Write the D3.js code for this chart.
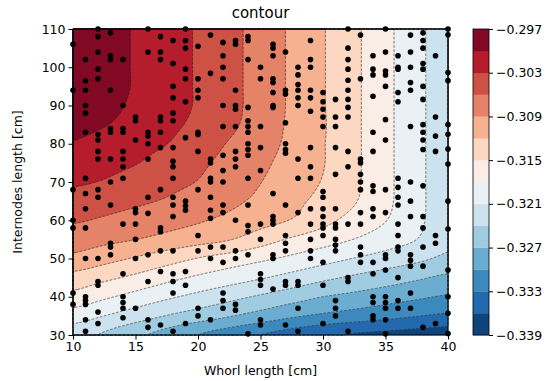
<!DOCTYPE html>
<html>
<head>
<meta charset="utf-8">
<script src="https://cdn.jsdelivr.net/npm/d3@7"></script>
<style>
  body { margin: 0; background: #fff; }
  text { font-family: "DejaVu Sans", sans-serif; }
</style>
</head>
<body>
<svg id="chart" width="555" height="381"></svg>
<script>
// field: whorl length (x) by internode length (y)
const gridX = [10, 12.5, 15, 17.5, 20, 22.5, 25, 27.5, 30, 32.5, 35, 37.5, 40];
const gridY = [30, 35, 40, 45, 50, 55, 60, 65, 70, 75, 80, 85, 90, 95, 100, 105, 110];
const gridZ = [
  [-0.3228, -0.32438, -0.32625, -0.32813, -0.3300, -0.3315, -0.3330, -0.33425, -0.3355, -0.33625, -0.33667, -0.33708, -0.3375],
  [-0.3195, -0.3210, -0.32256, -0.32411, -0.32545, -0.32679, -0.32817, -0.32956, -0.33053, -0.33131, -0.33209, -0.33287, -0.3335],
  [-0.3160, -0.31752, -0.3190, -0.32047, -0.32182, -0.3231, -0.32439, -0.32569, -0.3270, -0.32783, -0.32867, -0.3295, -0.3303],
  [-0.3131, -0.31432, -0.31565, -0.31712, -0.31845, -0.31959, -0.32073, -0.3220, -0.32332, -0.32449, -0.32552, -0.32655, -0.3276],
  [-0.30975, -0.3110, -0.31229, -0.31371, -0.31512, -0.31627, -0.31742, -0.31862, -0.31986, -0.32109, -0.32221, -0.32333, -0.3246],
  [-0.3075, -0.30824, -0.30897, -0.30992, -0.31088, -0.31185, -0.31362, -0.31538, -0.31671, -0.31806, -0.31953, -0.3210, -0.3233],
  [-0.3057, -0.30637, -0.30714, -0.30792, -0.30869, -0.30971, -0.3109, -0.31216, -0.31413, -0.31604, -0.3179, -0.32031, -0.3227],
  [-0.3041, -0.3048, -0.3055, -0.30629, -0.30733, -0.30838, -0.30963, -0.31119, -0.3129, -0.31478, -0.31728, -0.32016, -0.3227],
  [-0.30264, -0.30319, -0.30415, -0.30512, -0.30611, -0.30753, -0.30894, -0.31053, -0.31218, -0.31445, -0.31719, -0.32016, -0.3227],
  [-0.3014, -0.30214, -0.30288, -0.30411, -0.30542, -0.30686, -0.30839, -0.31007, -0.31186, -0.31438, -0.31719, -0.32016, -0.3227],
  [-0.3002, -0.30112, -0.30204, -0.30297, -0.30457, -0.3062, -0.30787, -0.30969, -0.31183, -0.31438, -0.31719, -0.32016, -0.3227],
  [-0.2990, -0.29986, -0.30103, -0.30226, -0.30368, -0.30539, -0.30737, -0.30955, -0.31173, -0.31438, -0.31719, -0.32016, -0.3227],
  [-0.2978, -0.2991, -0.3005, -0.30185, -0.30329, -0.30512, -0.30718, -0.30947, -0.31181, -0.31438, -0.31719, -0.32016, -0.3227],
  [-0.2975, -0.29886, -0.30024, -0.30174, -0.30329, -0.30512, -0.30718, -0.30947, -0.31181, -0.31438, -0.31719, -0.32016, -0.3227],
  [-0.2975, -0.29886, -0.30024, -0.30174, -0.30329, -0.30512, -0.30718, -0.30947, -0.31181, -0.31438, -0.31719, -0.32016, -0.3227],
  [-0.2975, -0.29886, -0.30024, -0.30174, -0.30329, -0.30512, -0.30718, -0.30947, -0.31181, -0.31438, -0.31719, -0.32016, -0.3227],
  [-0.2975, -0.29886, -0.30024, -0.30174, -0.30329, -0.30512, -0.30718, -0.30947, -0.31181, -0.31438, -0.31719, -0.32016, -0.3227]
];

const levels = [-0.339, -0.336, -0.333, -0.330, -0.327, -0.324, -0.321, -0.318,
  -0.315, -0.312, -0.309, -0.306, -0.303, -0.300, -0.297];
const colorbarTicks = [-0.339, -0.333, -0.327, -0.321, -0.315, -0.309, -0.303, -0.297];
const xTicks = [10, 15, 20, 25, 30, 35, 40];
const yTicks = [30, 40, 50, 60, 70, 80, 90, 100, 110];

// measured samples, grouped by whorl length
const samples = [
  [10, [106, 94, 68, 60, 58, 41, 38]],
  [11, [102, 96.4, 94, 90, 88, 83, 71, 67, 63, 58, 50, 40, 39, 38, 34, 31]],
  [12, [110, 108, 104, 99.5, 97, 82.4, 81, 78, 76, 68, 66, 50, 44, 43, 36, 33]],
  [13, [109, 103, 102, 94, 84, 83, 76, 70, 64, 54, 53, 51]],
  [14, [102, 90, 84, 83, 78, 76, 74, 71, 59, 46, 40, 38.5, 37, 34.5]],
  [15, [87, 86, 81, 63, 62, 59, 55, 50, 37]],
  [16, [110, 104, 83, 82, 80, 76, 66, 61.8, 51, 44, 34, 32]],
  [17, [108, 104, 102, 87, 86, 83, 79, 68, 58, 57, 52, 46.6, 32.6]],
  [18, [107, 101, 95, 92, 88, 86, 79, 75.4, 74, 71, 66, 64, 61, 52, 46, 44, 41, 31]],
  [19, [110, 107, 105, 99.5, 97, 91, 81.6, 65, 63.8, 62.6, 46.6, 43, 33]],
  [20, [105.5, 97, 94, 92, 83, 82.4, 78, 68, 56, 52, 37, 35]],
  [21, [108.4, 98.4, 76, 75, 71, 70, 66, 62.6, 60.5, 53, 50, 34]],
  [22, [106.5, 103, 100, 97, 90, 84.5, 77, 73, 70, 64, 62, 53, 49, 41, 39, 37]],
  [23, [107, 106, 94, 90, 89, 84.5, 78, 76, 74, 60, 52, 50, 38, 36.5]],
  [24, [108, 107, 102, 89.5, 86, 84.5, 83, 80, 78.5, 77, 71, 64, 58.6, 57, 51, 30.3]],
  [25, [100, 97, 84.5, 79, 73, 59, 55, 46, 44.5, 43, 34, 32.6]],
  [26, [106, 105, 103, 97, 96, 93.4, 90, 89.5, 67, 61, 60, 59, 51, 50, 42]],
  [27, [104, 94, 93, 85.5, 80, 78.5, 77.5, 64, 56, 54, 52, 44, 43, 32.6]],
  [28, [100, 98, 95.5, 94, 92, 90, 76, 71, 62, 44, 43, 37, 31]],
  [29, [107, 102, 100, 94, 92, 88.5, 79, 74, 71, 63, 59, 55, 52, 50]],
  [30, [93.4, 91, 89, 87, 84.5, 67.5, 66, 63, 61, 59, 58, 56, 49, 43, 33]],
  [31, [91.6, 87, 84.5, 79, 72, 63, 59, 58, 55, 53.5, 52, 39, 37, 35]],
  [32, [110, 105, 102, 99.5, 96.6, 94, 91.6, 89.5, 87, 78, 74, 59, 45, 44, 31]],
  [33, [108.4, 97, 76, 75, 72, 70, 68, 62, 59, 53, 51, 49]],
  [34, [103, 99.5, 98, 92.4, 83, 78, 69, 67.5, 63, 61, 49, 46, 40, 38.5, 35, 34]],
  [35, [110, 104, 99, 98, 95, 86.3, 81, 68, 62, 51, 50, 47, 40, 38.5, 37, 34, 30.3]],
  [36, [103, 100, 99.5, 93.4, 91, 71, 68.6, 66, 64, 59, 56, 53, 52, 45, 39, 37]],
  [37, [108.4, 104, 100, 96, 94, 84.5, 70, 65, 61, 51, 49.5, 48, 41, 37]],
  [38, [109, 107, 105, 101, 99.5, 95, 91.6, 85, 83, 81, 78.5, 69, 61, 58, 53, 48, 32]],
  [39, [103, 87, 82, 78, 56, 54, 33]],
  [40, [110, 108.5, 98.6, 96.5, 85, 82.5, 78.6, 74.7, 65, 57.7, 47, 40, 35.7, 30.4]]
];

const svg = d3.select('#chart');
const plot = { left: 73, right: 448, top: 29, bottom: 335 };
const bar = { left: 473, right: 489 };

const x = d3.scaleLinear().domain([10, 40]).range([plot.left, plot.right]);
const y = d3.scaleLinear().domain([30, 110]).range([plot.bottom, plot.top]);
const cbScale = d3.scaleLinear().domain([levels[0], levels[levels.length - 1]]).range([plot.bottom, plot.top]);

// matplotlib RdBu_r: linear rgb between the brewer stops
const rdbu = ['#053061', '#2166ac', '#4393c3', '#92c5de', '#d1e5f0', '#f7f7f7',
  '#fddbc7', '#f4a582', '#d6604d', '#b2182b', '#67001f'];
const cmap = d3.scaleLinear().domain(d3.range(rdbu.length).map(i => i / (rdbu.length - 1))).range(rdbu).interpolate(d3.interpolateRgb);
const nBands = levels.length - 1;
const bandColor = k => cmap((k + 0.5) / nBands);

// smooth (catmull-rom) resampling of the read grid, for drawing only
function cubic(p0, p1, p2, p3, t) {
  return p1 + 0.5 * t * (p2 - p0 + t * (2 * p0 - 5 * p1 + 4 * p2 - p3 + t * (3 * (p1 - p2) + p3 - p0)));
}
function fieldAt(xv, yv) {
  const fx = (xv - gridX[0]) / (gridX[1] - gridX[0]);
  const fy = (yv - gridY[0]) / (gridY[1] - gridY[0]);
  const ix = Math.min(Math.max(Math.floor(fx), 0), gridX.length - 2);
  const iy = Math.min(Math.max(Math.floor(fy), 0), gridY.length - 2);
  const tx = fx - ix, ty = fy - iy;
  const cx = i => Math.min(Math.max(i, 0), gridX.length - 1);
  const cy = j => Math.min(Math.max(j, 0), gridY.length - 1);
  const col = [-1, 0, 1, 2].map(d => {
    const r = gridZ[cy(iy + d)];
    return cubic(r[cx(ix - 1)], r[cx(ix)], r[cx(ix + 1)], r[cx(ix + 2)], tx);
  });
  return cubic(col[0], col[1], col[2], col[3], ty);
}

const n = Math.round(plot.right - plot.left);
const m = Math.round(plot.bottom - plot.top);
const values = new Float64Array(n * m);
for (let j = 0; j < m; j++) {
  const yv = y.invert(plot.top + j + 0.5);
  for (let i = 0; i < n; i++) {
    values[j * n + i] = fieldAt(x.invert(plot.left + i + 0.5), yv);
  }
}
const contours = d3.contours().size([n, m]).thresholds(levels.slice(0, -1))(values);
const path = d3.geoPath();

const field = svg.append('g').attr('transform', `translate(${plot.left},${plot.top})`);
field.selectAll('path.fill').data(contours).enter().append('path')
  .attr('class', 'fill')
  .attr('d', path)
  .attr('fill', (d, k) => bandColor(k))
  .attr('stroke', (d, k) => bandColor(k))
  .attr('stroke-width', 0.5);

// dashed contour lines (negative levels)
field.selectAll('path.line').data(contours.slice(1)).enter().append('path')
  .attr('class', 'line')
  .attr('d', path)
  .attr('fill', 'none')
  .attr('stroke', '#222')
  .attr('stroke-opacity', 0.8)
  .attr('stroke-width', 0.8)
  .attr('stroke-dasharray', '2.6,1.6');

// samples
const points = samples.flatMap(([wx, ys]) => ys.map(v => ({ wx, v })));
svg.append('g').selectAll('circle').data(points).enter().append('circle')
  .attr('cx', d => x(d.wx))
  .attr('cy', d => y(d.v))
  .attr('r', 2.8)
  .attr('fill', '#000');

// frame
svg.append('rect')
  .attr('x', plot.left).attr('y', plot.top)
  .attr('width', plot.right - plot.left).attr('height', plot.bottom - plot.top)
  .attr('fill', 'none').attr('stroke', '#000').attr('stroke-width', 1);

const fontSize = '12.5px';
const xAxis = svg.append('g').attr('transform', `translate(0,${plot.bottom})`)
  .call(d3.axisBottom(x).tickValues(xTicks).tickSize(4.5).tickSizeOuter(0).tickPadding(3));
const yAxis = svg.append('g').attr('transform', `translate(${plot.left},0)`)
  .call(d3.axisLeft(y).tickValues(yTicks).tickSize(4.5).tickSizeOuter(0).tickPadding(3));
[xAxis, yAxis].forEach(g => {
  g.select('.domain').remove();
  g.selectAll('.tick text').style('font-size', fontSize).attr('fill', '#000').style('font-family', '"DejaVu Sans", sans-serif');
});

svg.append('text').attr('x', (plot.left + plot.right) / 2).attr('y', 18)
  .attr('text-anchor', 'middle').style('font-size', '15px').text('contour');
svg.append('text').attr('x', (plot.left + plot.right) / 2).attr('y', 375)
  .attr('text-anchor', 'middle').style('font-size', fontSize).text('Whorl length [cm]');
svg.append('text').attr('transform', `translate(22,${(plot.top + plot.bottom) / 2}) rotate(-90)`)
  .attr('text-anchor', 'middle').style('font-size', fontSize).text('Internodes length [cm]');

// colorbar
const cb = svg.append('g');
cb.selectAll('rect.band').data(d3.range(nBands)).enter().append('rect')
  .attr('class', 'band')
  .attr('x', bar.left)
  .attr('width', bar.right - bar.left)
  .attr('y', k => cbScale(levels[k + 1]))
  .attr('height', k => cbScale(levels[k]) - cbScale(levels[k + 1]) + 0.3)
  .attr('fill', k => bandColor(k));
cb.append('rect')
  .attr('x', bar.left).attr('y', plot.top)
  .attr('width', bar.right - bar.left).attr('height', plot.bottom - plot.top)
  .attr('fill', 'none').attr('stroke', '#000').attr('stroke-width', 0.8);
const cbAxis = cb.append('g').attr('transform', `translate(${bar.right},0)`)
  .call(d3.axisRight(cbScale).tickValues(colorbarTicks).tickFormat(d3.format('.3f')).tickSize(4).tickSizeOuter(0).tickPadding(3));
cbAxis.select('.domain').remove();
cbAxis.selectAll('.tick text').style('font-size', fontSize).attr('fill', '#000').style('font-family', '"DejaVu Sans", sans-serif');
</script>
</body>
</html>
